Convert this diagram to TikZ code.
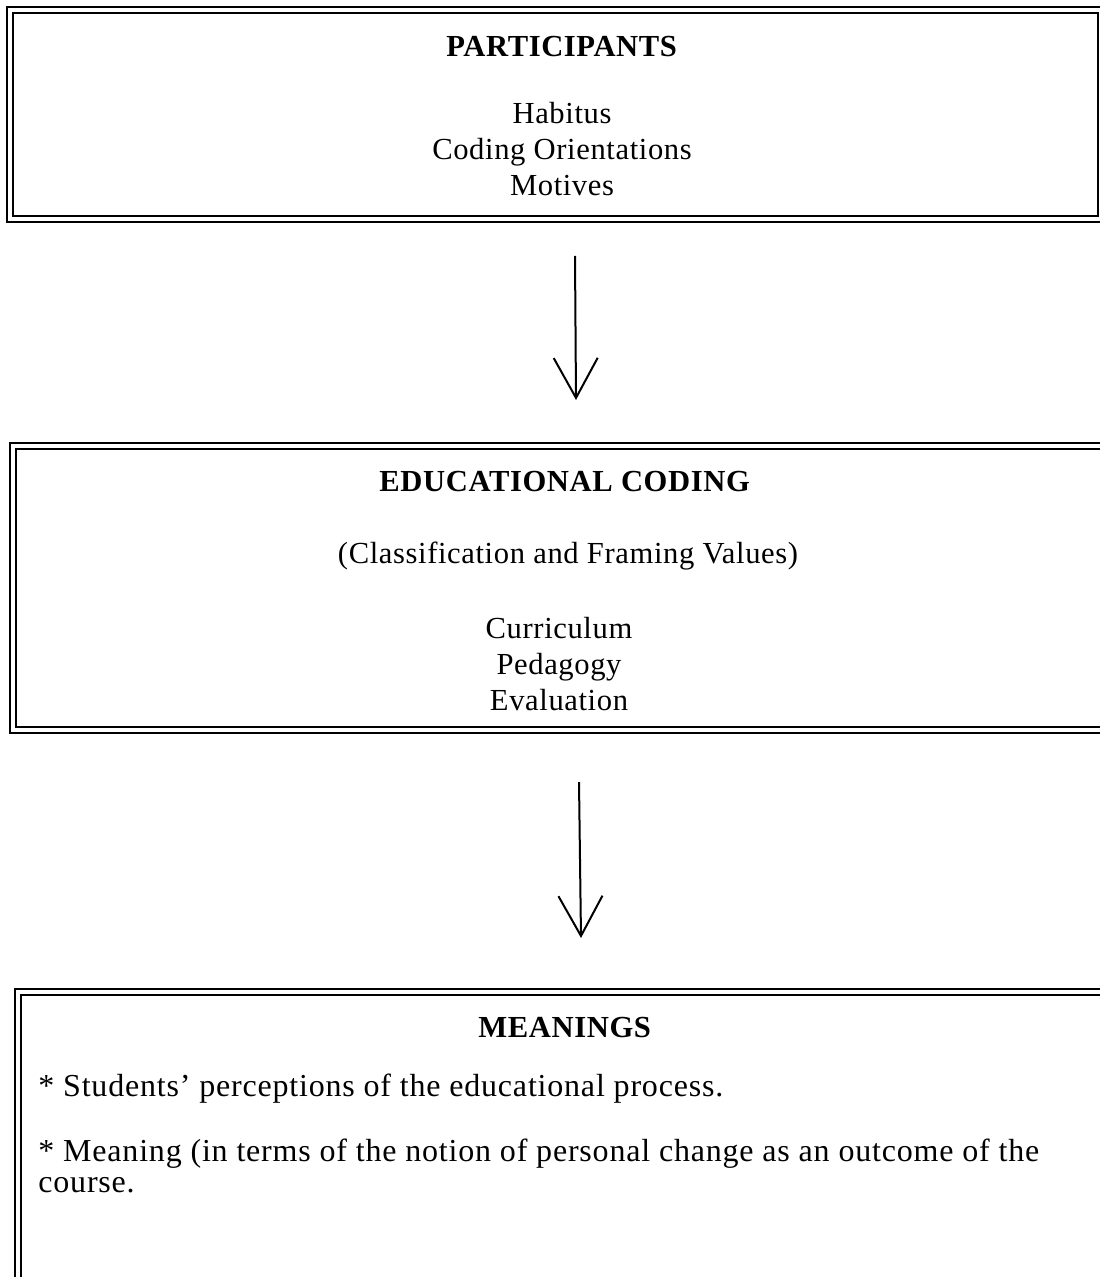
\documentclass[tikz,border=0pt]{standalone}
\usepackage{fontspec}
\setmainfont{Liberation Serif}[LetterSpace=2]
\usetikzlibrary{arrows.meta}

\tikzset{
  frame/.style={rectangle,draw,double,double distance=2pt,line width=1pt,
    outer sep=0pt,anchor=north west},
  flow/.style={line width=1pt,-{Straight Barb[length=20pt,width=22pt,line width=1pt]}},
  bodytext/.style={anchor=base west,
    font=\fontsize{16pt}{19pt}\selectfont\addfontfeature{LetterSpace=2.5}}
}

\begin{document}
\begin{tikzpicture}[x=0.5pt,y=-0.5pt,
    every node/.style={inner sep=0pt,font=\fontsize{15.3pt}{18pt}\selectfont}]

      \useasboundingbox (0,0) rectangle (1099,1277);

      \begin{scope}[every node/.style={frame}]
        \node[minimum width=545.5pt,minimum height=104.25pt]  (participants) at (10,10.5) {};
        \node[minimum width=548.75pt,minimum height=141.75pt] (coding)       at (12.5,446.5) {};
        \node[minimum width=546pt,minimum height=150pt]       (meanings)     at (18,992) {};
      \end{scope}

      \begin{scope}[every node/.style={anchor=base,inner sep=0pt,
          font=\fontsize{15.3pt}{18pt}\selectfont}]
        \node (t1) at (562,56.5) {\textbf{PARTICIPANTS}};
        \node (t2) at (562,124)  {Habitus};
        \node (t3) at (562,160)  {Coding Orientations};
        \node (t4) at (562,196)  {Motives};

        \node (t5) at (565,492)  {\textbf{EDUCATIONAL CODING}};
        \node (t6) at (568,563)  {(Classification and Framing Values)};
        \node (t7) at (559,638)  {Curriculum};
        \node (t8) at (559,674)  {Pedagogy};
        \node (t9) at (559,710)  {Evaluation};

        \node (t10) at (565,1037) {\textbf{MEANINGS}};
        \node[bodytext] (t11) at (38,1096) {* Students' perceptions of the educational process.};
        \node[bodytext] (t12) at (38,1161) {* Meaning (in terms of the notion of personal change as an outcome of the};
        \node[bodytext] (t13) at (38,1192) {course.};
      \end{scope}

      \coordinate (a1s) at (575,256);
      \coordinate (a1e) at (576,400);
      \coordinate (a2s) at (579,782);
      \coordinate (a2e) at (581,938);
      \draw[flow] (a1s) -- (a1e);
      \draw[flow] (a2s) -- (a2e);

    \end{tikzpicture}
\end{document}
